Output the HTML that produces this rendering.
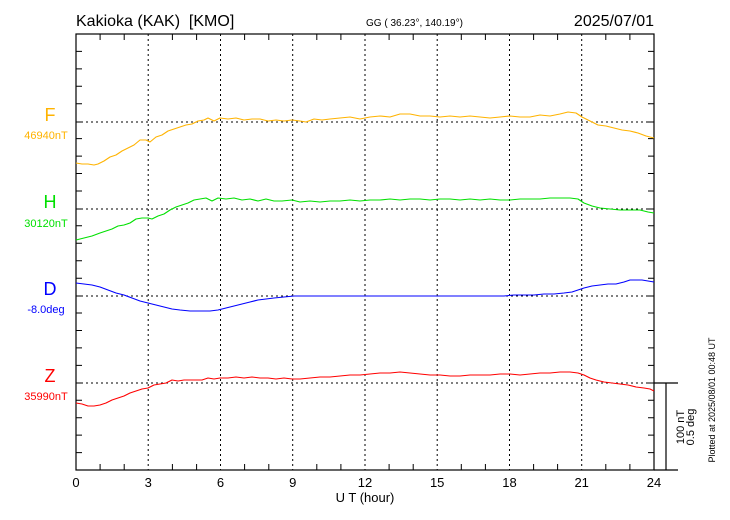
<!DOCTYPE html>
<html><head><meta charset="utf-8"><style>
body{margin:0;background:#fff}
svg{display:block;font-family:"Liberation Sans",sans-serif}
</style></head><body>
<svg width="730" height="520" viewBox="0 0 730 520">
<rect width="730" height="520" fill="#fff"/>
<text x="76" y="26" font-size="16">Kakioka (KAK)&#160; [KMO]</text>
<text x="366" y="26" font-size="10">GG ( 36.23°, 140.19°)</text>
<text x="654" y="26" font-size="16" text-anchor="end">2025/07/01</text>
<g stroke="#000" stroke-width="1" stroke-dasharray="2,3">
<line x1="148.2" y1="34" x2="148.2" y2="470"/><line x1="220.5" y1="34" x2="220.5" y2="470"/>
<line x1="292.7" y1="34" x2="292.7" y2="470"/><line x1="365" y1="34" x2="365" y2="470"/>
<line x1="437.2" y1="34" x2="437.2" y2="470"/><line x1="509.5" y1="34" x2="509.5" y2="470"/>
<line x1="581.7" y1="34" x2="581.7" y2="470"/>
<line x1="76" y1="122" x2="654" y2="122"/><line x1="76" y1="209" x2="654" y2="209"/>
<line x1="76" y1="296" x2="654" y2="296"/><line x1="76" y1="383" x2="654" y2="383"/>
</g>
<g stroke="#000" stroke-width="1.2" fill="none">
<rect x="76" y="34" width="578" height="436"/>
<line x1="654" y1="470" x2="678" y2="470"/>
<line x1="654" y1="383" x2="678" y2="383"/>
<line x1="666" y1="383" x2="666" y2="470"/>
</g>
<path stroke="#000" stroke-width="1" fill="none" d="M100.1 34v6M124.2 34v6M172.4 34v6M196.6 34v6M244.6 34v6M268.8 34v6M316.8 34v6M340.9 34v6M389.1 34v6M413.2 34v6M461.3 34v6M485.4 34v6M533.6 34v6M557.6 34v6M605.8 34v6M629.9 34v6
M100.1 470v-6M124.2 470v-6M172.4 470v-6M196.6 470v-6M244.6 470v-6M268.8 470v-6M316.8 470v-6M340.9 470v-6M389.1 470v-6M413.2 470v-6M461.3 470v-6M485.4 470v-6M533.6 470v-6M557.6 470v-6M605.8 470v-6M629.9 470v-6
M76 51.4h6M76 68.9h6M76 86.3h6M76 103.8h6M76 122h6M76 138.6h6M76 156.1h6M76 173.5h6M76 191h6M76 209h6M76 225.8h6M76 243.3h6M76 260.7h6M76 278.2h6M76 296h6M76 313h6M76 330.5h6M76 347.9h6M76 365.4h6M76 383h6M76 400.2h6M76 417.7h6M76 435.1h6M76 452.6h6
M654 51.4h-6M654 68.9h-6M654 86.3h-6M654 103.8h-6M654 122h-6M654 138.6h-6M654 156.1h-6M654 173.5h-6M654 191h-6M654 209h-6M654 225.8h-6M654 243.3h-6M654 260.7h-6M654 278.2h-6M654 296h-6M654 313h-6M654 330.5h-6M654 347.9h-6M654 365.4h-6M654 383h-6M654 400.2h-6M654 417.7h-6M654 435.1h-6M654 452.6h-6"/>
<g font-size="13" text-anchor="middle">
<text x="76" y="487">0</text><text x="148.2" y="487">3</text><text x="220.5" y="487">6</text>
<text x="292.7" y="487">9</text><text x="365" y="487">12</text><text x="437.2" y="487">15</text>
<text x="509.5" y="487">18</text><text x="581.7" y="487">21</text><text x="654" y="487">24</text>
<text x="365" y="502">U T (hour)</text>
</g>
<g text-anchor="middle">
<text x="50" y="121" font-size="18" fill="#ffb300">F</text>
<text x="46" y="139" font-size="11" fill="#ffb300">46940nT</text>
<text x="50" y="208" font-size="18" fill="#00e000">H</text>
<text x="46" y="227" font-size="11" fill="#00e000">30120nT</text>
<text x="50" y="295" font-size="18" fill="#0000ff">D</text>
<text x="46" y="313" font-size="11" fill="#0000ff">-8.0deg</text>
<text x="50" y="382" font-size="18" fill="#ff0000">Z</text>
<text x="46" y="400" font-size="11" fill="#ff0000">35990nT</text>
</g>
<text transform="translate(684,427) rotate(-90)" font-size="11" text-anchor="middle">100 nT</text>
<text transform="translate(694,427) rotate(-90)" font-size="11" text-anchor="middle">0.5 deg</text>
<text transform="translate(715,400) rotate(-90)" font-size="9" text-anchor="middle">Plotted at 2025/08/01 00:48 UT</text>
<g fill="none" stroke-width="1.1" stroke-linejoin="round">
<polyline stroke="#ffb300" points="76,163 82,164 88,164 94,165 98,164 104,161 110,157 116,155 122,151 128,148 134,145 140,140 146,140 150,142 156,137 162,135 168,131 174,129 180,127 186,125 192,124 198,121 204,120 208,118 214,121 220,118 228,119 236,118 244,120 252,119 260,119 268,121 276,120 284,121 292,120 300,121 306,122 314,119 322,120 330,119 340,118 350,117 360,119 370,117 380,116 390,117 400,114 410,114 420,116 430,116 440,117 450,116 460,117 470,116 480,117 490,118 500,117 510,116 520,117 530,117 540,115 550,116 560,114 568,112 576,113 582,117 590,121 598,125 606,126 614,128 622,130 630,131 638,133 646,136 654,138"/>
<polyline stroke="#00e000" points="76,240 84,238 92,236 100,233 106,231 112,229 118,226 124,225 130,223 136,219 142,218 148,218 152,219 158,216 164,214 170,210 176,207 182,205 188,203 194,200 200,199 206,198 212,201 218,198 226,199 234,198 242,200 250,199 258,201 266,199 274,201 282,201 292,200 300,202 310,201 320,202 330,201 340,201 350,200 360,201 370,200 380,200 390,199 400,200 410,199 420,199 430,200 440,199 450,199 460,200 470,199 480,200 490,199 500,200 510,200 520,199 530,199 540,199 550,198 560,198 570,198 578,199 584,203 592,206 600,208 610,209 620,210 630,210 640,210 648,212 654,213"/>
<polyline stroke="#0000ff" points="76,283 84,284 92,285 100,287 108,290 116,293 124,295 132,298 140,301 148,303 156,305 164,307 172,309 180,310 190,311 200,311 210,311 218,310 226,308 234,306 242,304 250,302 258,300 266,299 274,298 284,297 294,296 304,296 314,296 324,296 334,296 344,296 354,296 364,296 374,296 384,296 394,296 404,296 414,296 424,296 434,296 444,296 454,296 464,296 474,296 484,296 494,296 504,296 514,295 524,295 534,295 544,294 554,294 564,293 572,292 578,290 584,288 592,286 600,285 608,284 616,284 624,282 630,280 636,280 642,280 648,281 654,282"/>
<polyline stroke="#ff0000" points="76,403 82,404 88,406 94,406 100,405 106,403 112,400 118,398 124,396 130,393 136,391 142,389 148,388 154,385 160,384 166,383 172,380 178,381 184,380 190,380 196,380 202,380 208,378 214,379 220,378 228,378 236,377 244,378 252,377 260,378 268,378 276,379 284,378 292,379 300,379 310,378 320,377 330,377 340,376 350,375 360,375 370,374 380,373 390,373 400,372 410,373 420,374 430,375 440,375 450,376 460,376 470,375 480,375 490,375 500,374 510,374 520,375 530,374 540,373 550,373 560,372 570,372 578,373 584,375 590,378 596,380 604,382 612,383 620,384 628,385 636,387 644,388 650,389 654,391"/>
</g>
</svg>
</body></html>
